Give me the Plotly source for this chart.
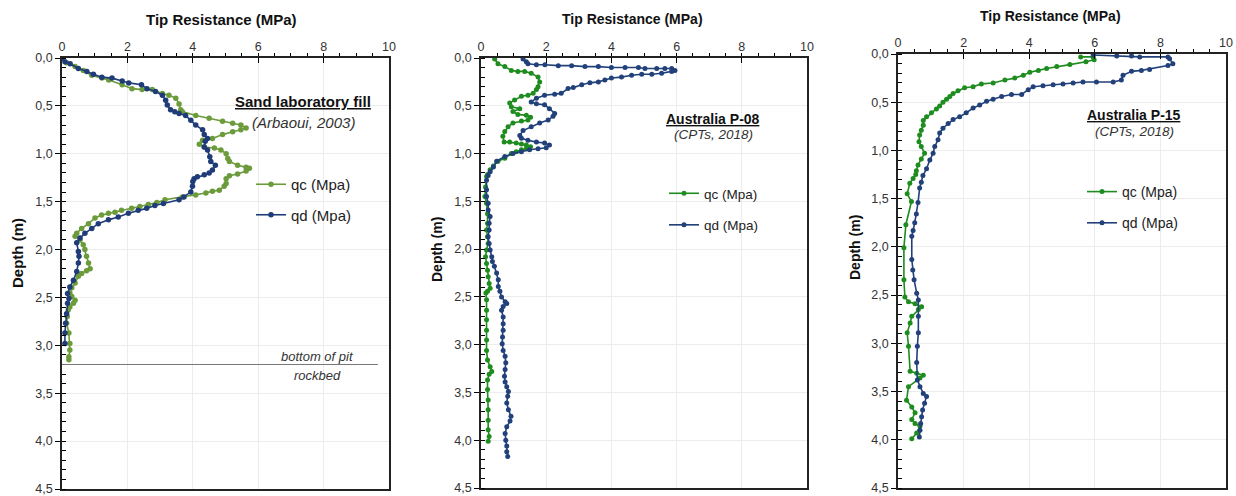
import plotly.graph_objects as go

# ---------------- data ----------------
# Panel 1 : Sand laboratory fill (Arbaoui, 2003)
p1_qd_depth = [0.00,0.04,0.06,0.11,0.14,0.17,0.20,0.21,0.24,0.26,0.28,0.32,0.35,0.39,0.44,0.49,0.54,0.56,0.58,0.60,
               0.65,0.70,0.75,0.80,0.84,0.87,0.93,0.96,1.03,1.08,1.12,1.17,1.20,1.22,1.24,1.26,1.29,1.34,1.40,1.45,
               1.48,1.52,1.54,1.57,1.59,1.62,1.66,1.69,1.73,1.78,1.83,1.88,1.93,2.02,2.07,2.14,2.23,2.32,2.39,2.46,
               2.51,2.56,2.67,2.77,2.87,2.98]
p1_qd_value = [0.00,0.09,0.25,0.50,0.76,0.96,1.22,1.53,1.84,2.04,2.43,2.60,2.86,3.07,3.17,3.22,3.32,3.45,3.58,3.78,
               3.94,4.09,4.30,4.35,4.45,4.38,4.35,4.45,4.52,4.55,4.69,4.60,4.50,4.35,4.14,4.04,4.00,3.99,3.94,3.73,
               3.58,3.10,2.84,2.59,2.33,2.03,1.72,1.42,1.11,0.91,0.70,0.55,0.45,0.50,0.52,0.50,0.45,0.35,0.24,0.17,
               0.21,0.17,0.14,0.11,0.09,0.09]
p1_qc_depth = [0.00,0.05,0.09,0.13,0.18,0.21,0.23,0.28,0.32,0.33,0.33,0.37,0.39,0.42,0.48,0.54,0.56,0.60,0.63,0.66,
               0.68,0.70,0.73,0.75,0.77,0.80,0.84,0.86,0.90,0.93,0.94,0.96,1.00,1.05,1.08,1.12,1.14,1.15,1.18,1.21,
               1.23,1.26,1.31,1.34,1.38,1.39,1.41,1.43,1.45,1.48,1.51,1.53,1.55,1.57,1.59,1.61,1.62,1.64,1.67,1.73,
               1.78,1.83,1.86,1.90,1.95,2.00,2.07,2.14,2.20,2.22,2.25,2.28,2.35,2.40,2.45,2.49,2.53,2.56,2.60,2.63,
               2.70,2.77,2.87,2.98,3.05,3.12,3.15]
p1_qc_value = [0.00,0.14,0.40,0.65,0.91,1.22,1.43,1.84,2.14,2.45,2.76,3.07,3.27,3.48,3.58,3.63,3.68,4.09,4.50,4.91,
               5.22,5.47,5.63,5.47,5.22,4.91,4.60,4.30,4.20,4.35,4.66,4.86,5.02,5.07,5.12,5.37,5.63,5.73,5.63,5.37,
               5.12,5.02,5.02,4.96,4.81,4.60,4.40,4.09,3.68,3.15,2.90,2.64,2.38,2.13,1.82,1.62,1.42,1.21,1.01,0.81,
               0.60,0.45,0.40,0.55,0.65,0.70,0.75,0.81,0.86,0.75,0.60,0.50,0.40,0.30,0.24,0.30,0.40,0.35,0.24,0.19,
               0.16,0.14,0.21,0.24,0.24,0.21,0.21]

# Panel 2 : Australia P-08 (CPTs, 2018)
p2_qd_depth = [0.01,0.04,0.06,0.07,0.07,0.08,0.08,0.09,0.09,0.10,0.10,0.10,0.11,0.11,0.11,0.11,0.13,0.14,0.16,0.17,
               0.17,0.18,0.20,0.21,0.23,0.25,0.26,0.28,0.31,0.32,0.37,0.38,0.39,0.42,0.46,0.48,0.49,0.53,0.58,0.61,
               0.65,0.68,0.72,0.76,0.81,0.84,0.86,0.88,0.89,0.91,0.94,0.95,0.96,0.98,1.00,1.03,1.08,1.14,1.19,
               1.23,1.28,1.38,1.45,1.52,1.59,1.66,1.73,1.80,1.87,1.94,2.01,2.08,2.13,2.18,2.25,2.32,2.39,2.44,2.50,
               2.55,2.57,2.60,2.64,2.71,2.78,2.85,2.92,2.99,3.06,3.12,3.19,3.26,3.33,3.39,3.44,3.49,3.54,3.61,3.68,
               3.75,3.80,3.86,3.93,4.00,4.06,4.12,4.17]
p2_qd_value = [1.29,1.39,1.44,1.70,1.96,2.37,2.78,3.19,3.60,4.00,4.42,4.83,5.03,5.39,5.64,5.85,5.95,5.85,5.54,5.24,
               4.93,4.62,4.31,4.00,3.80,3.60,3.34,3.09,2.83,2.67,2.46,2.26,1.95,1.70,1.54,1.70,1.95,2.10,2.26,2.21,
               2.06,1.80,1.54,1.29,1.19,1.24,1.44,1.70,1.95,2.10,2.00,1.75,1.49,1.24,0.98,0.73,0.48,0.38,0.28,
               0.22,0.17,0.17,0.17,0.22,0.22,0.28,0.25,0.25,0.22,0.25,0.28,0.33,0.35,0.41,0.48,0.53,0.53,0.58,0.63,
               0.74,0.79,0.68,0.63,0.68,0.68,0.68,0.66,0.65,0.68,0.74,0.76,0.74,0.72,0.74,0.79,0.84,0.82,0.79,0.84,
               0.92,0.89,0.79,0.74,0.76,0.79,0.79,0.82]
p2_qc_depth = [0.01,0.06,0.09,0.13,0.14,0.14,0.16,0.20,0.25,0.30,0.33,0.37,0.39,0.40,0.44,0.47,0.51,0.53,0.56,0.59,
               0.60,0.62,0.65,0.66,0.68,0.72,0.77,0.82,0.88,0.88,0.89,0.90,0.91,0.93,0.95,0.96,0.98,1.00,1.05,1.08,
               1.13,1.17,1.22,1.24,1.35,1.45,1.52,1.63,1.73,1.80,1.87,1.94,2.01,2.08,2.15,2.22,2.29,2.36,2.41,2.44,
               2.46,2.53,2.64,2.74,2.85,2.95,3.06,3.16,3.23,3.28,3.31,3.37,3.47,3.58,3.68,3.79,3.89,3.96,4.01]
p2_qc_value = [0.42,0.52,0.73,0.93,1.13,1.34,1.54,1.75,1.80,1.75,1.70,1.60,1.44,1.24,1.03,0.88,0.93,1.19,0.98,1.13,
               1.39,1.52,1.44,1.24,0.98,0.83,0.73,0.67,0.71,0.88,1.08,1.24,1.39,1.52,1.39,1.24,1.08,0.93,0.73,0.52,
               0.38,0.28,0.20,0.17,0.14,0.12,0.17,0.20,0.20,0.17,0.20,0.22,0.17,0.14,0.17,0.20,0.22,0.25,0.28,0.20,
               0.15,0.17,0.17,0.17,0.17,0.17,0.17,0.20,0.28,0.33,0.25,0.20,0.20,0.22,0.22,0.22,0.22,0.25,0.22]

# Panel 3 : Australia P-15 (CPTs, 2018)
p3_qc_depth = [0.03,0.03,0.06,0.08,0.11,0.13,0.15,0.17,0.19,0.22,0.25,0.27,0.30,0.31,0.34,0.35,0.38,0.41,0.44,0.47,
               0.50,0.54,0.57,0.61,0.65,0.69,0.74,0.79,0.84,0.91,0.96,1.03,1.09,1.15,1.21,1.25,1.29,1.34,1.45,1.53,
               1.77,2.01,2.34,2.52,2.57,2.59,2.62,2.65,2.72,2.79,2.89,3.03,3.29,3.31,3.33,3.36,3.45,3.59,3.66,3.72,
               3.79,3.83,3.86,3.93,3.99]
p3_qc_value = [5.57,5.95,5.98,5.73,5.24,4.84,4.53,4.28,4.02,3.82,3.56,3.26,2.90,2.54,2.29,2.03,1.83,1.68,1.58,1.48,
               1.37,1.27,1.17,1.02,0.87,0.77,0.77,0.71,0.66,0.64,0.71,0.81,0.71,0.61,0.56,0.54,0.46,0.36,0.28,0.41,
               0.24,0.18,0.18,0.21,0.32,0.52,0.72,0.62,0.42,0.37,0.28,0.32,0.37,0.57,0.77,0.67,0.32,0.26,0.42,0.52,
               0.42,0.52,0.67,0.57,0.42]
p3_qd_depth = [0.01,0.02,0.02,0.03,0.03,0.05,0.10,0.12,0.16,0.17,0.18,0.22,0.27,0.29,0.29,0.29,0.30,0.31,0.32,0.33,
               0.34,0.37,0.42,0.42,0.44,0.47,0.49,0.53,0.56,0.61,0.65,0.68,0.72,0.77,0.82,0.89,0.96,1.03,1.10,1.19,
               1.26,1.33,1.39,1.54,1.66,1.75,1.83,1.89,2.13,2.24,2.34,2.48,2.55,2.72,2.89,3.03,3.20,3.38,3.45,3.52,
               3.55,3.62,3.69,3.76,3.83,3.90,3.97]
p3_qd_value = [5.95,6.67,7.12,7.37,8.23,8.28,8.38,8.23,7.67,7.42,7.12,6.86,6.81,6.56,6.05,5.64,5.34,5.03,4.73,4.42,
               4.12,3.97,3.77,3.46,3.16,2.90,2.70,2.49,2.29,2.08,1.88,1.68,1.53,1.37,1.27,1.22,1.12,1.07,0.97,0.87,
               0.76,0.71,0.66,0.61,0.56,0.51,0.46,0.42,0.42,0.45,0.49,0.57,0.62,0.62,0.62,0.59,0.57,0.59,0.67,0.77,
               0.87,0.81,0.75,0.72,0.69,0.67,0.65]

x_ticks = [0, 2, 4, 6, 8, 10]
y_ticks = [0.0, 0.5, 1.0, 1.5, 2.0, 2.5, 3.0, 3.5, 4.0, 4.5]

# ---------------- figure ----------------
W, H = 1236, 496
FONT = "Liberation Sans, Arial, sans-serif"


def px_x(p):
    return min(1.0, max(0.0, p / W))


def px_y(p):
    return min(1.0, max(0.0, 1 - p / H))


fig = go.Figure()

panels = [
    dict(qc=(p1_qc_depth, p1_qc_value), qd=(p1_qd_depth, p1_qd_value),
         cqc="#6B9B3A", cqd="#1F3C78", ms=5.5, box=(62, 389, 58, 489),
         leg=(251, 168), legfs=15, leggap=8,
         title=("Sand laboratory fill", "(Arbaoui, 2003)"), tfs=(15, 15), tpos=(7.37, 0.45, 0.67),
         xt=(221, 20), xtfs=15, yt=(17, 253), tickfs=12.5),
    dict(qc=(p2_qc_depth, p2_qc_value), qd=(p2_qd_depth, p2_qd_value),
         cqc="#1E8C1E", cqd="#22407A", ms=5, box=(481, 807, 58, 488),
         leg=(664, 178), legfs=13.5, leggap=11,
         title=("Australia P-08", "(CPTs, 2018)"), tfs=(14, 13.5), tpos=(7.12, 0.64, 0.80),
         xt=(632, 19), xtfs=14, yt=(437, 250), tickfs=12.5),
    dict(qc=(p3_qc_depth, p3_qc_value), qd=(p3_qd_depth, p3_qd_value),
         cqc="#1E8C1E", cqd="#22407A", ms=5, box=(898, 1226, 54, 488),
         leg=(1082, 176), legfs=14, leggap=10,
         title=("Australia P-15", "(CPTs, 2018)"), tfs=(14, 13.5), tpos=(7.2, 0.63, 0.80),
         xt=(1050, 16), xtfs=14, yt=(855, 248), tickfs=12.5),
]

annotations = []
for i, p in enumerate(panels, start=1):
    sfx = "" if i == 1 else str(i)
    xa, ya = "x" + sfx, "y" + sfx
    legname = "legend" if i == 1 else "legend" + str(i)
    fig.add_trace(go.Scatter(x=p["qc"][1], y=p["qc"][0], mode="lines+markers", name="qc (Mpa)",
                             line=dict(color=p["cqc"], width=1.6), marker=dict(size=p["ms"], color=p["cqc"]),
                             xaxis=xa, yaxis=ya, legend=legname, legendgroup="qc" + str(i)))
    fig.add_trace(go.Scatter(x=p["qd"][1], y=p["qd"][0], mode="lines+markers", name="qd (Mpa)",
                             line=dict(color=p["cqd"], width=1.6), marker=dict(size=p["ms"], color=p["cqd"]),
                             xaxis=xa, yaxis=ya, legend=legname, legendgroup="qd" + str(i)))
    x0, x1, y0, y1 = p["box"]
    fig.layout["xaxis" + sfx] = dict(
        domain=[px_x(x0), px_x(x1)], anchor=ya, side="top", range=[0, 10], automargin=False,
        ticklabeloverflow="allow",
        tickvals=x_ticks, ticks="inside", ticklen=5, tickcolor="#000",
        minor=dict(dtick=0.5, ticks="outside", ticklen=3, tickcolor="#000", showgrid=False),
        showgrid=True, gridcolor="#ececec", gridwidth=1,
        showline=True, linecolor="#222", linewidth=1.5, mirror=True,
        tickfont=dict(family=FONT, size=p["tickfs"], color="#333"), zeroline=False, fixedrange=True)
    fig.layout["yaxis" + sfx] = dict(
        domain=[px_y(y1), px_y(y0)], anchor=xa, range=[4.5, 0], automargin=False,
        ticklabeloverflow="allow",
        tickvals=y_ticks, tickformat=".1f", ticks="outside", ticklen=5, tickcolor="#000",
        minor=dict(dtick=0.1, ticks="inside", ticklen=4, tickcolor="#000", showgrid=False),
        showgrid=True, gridcolor="#ececec", gridwidth=1,
        showline=True, linecolor="#222", linewidth=1.5, mirror=True,
        tickfont=dict(family=FONT, size=p["tickfs"], color="#333"), zeroline=False, fixedrange=True)
    lx, ly = p["leg"]
    fig.layout[legname] = dict(x=px_x(lx), y=px_y(ly), xanchor="left", yanchor="top",
                               bgcolor="rgba(0,0,0,0)", font=dict(family=FONT, size=p["legfs"], color="#222"),
                               itemwidth=30, tracegroupgap=p["leggap"])
    tx, ty1, ty2 = p["tpos"]
    annotations.append(dict(x=tx, y=ty1, xref=xa, yref=ya, text="<b><u>" + p["title"][0] + "</u></b>",
                            showarrow=False, xanchor="center", yanchor="middle",
                            font=dict(family=FONT, size=p["tfs"][0], color="#111")))
    annotations.append(dict(x=tx, y=ty2, xref=xa, yref=ya, text="<i>" + p["title"][1] + "</i>",
                            showarrow=False, xanchor="center", yanchor="middle",
                            font=dict(family=FONT, size=p["tfs"][1], color="#333")))
    annotations.append(dict(x=px_x(p["xt"][0]), y=px_y(p["xt"][1]), xref="paper", yref="paper",
                            text="<b>Tip Resistance (MPa)</b>", showarrow=False,
                            xanchor="center", yanchor="middle",
                            font=dict(family=FONT, size=p["xtfs"], color="#111")))
    annotations.append(dict(x=px_x(p["yt"][0]), y=px_y(p["yt"][1]), xref="paper", yref="paper",
                            text="<b>Depth (m)</b>", textangle=-90, showarrow=False,
                            xanchor="center", yanchor="middle",
                            font=dict(family=FONT, size=p["xtfs"], color="#111")))

# pit bottom line in panel 1
fig.add_shape(type="line", x0=0.0, x1=9.66, y0=3.2, y1=3.2, xref="x", yref="y",
              line=dict(color="#777", width=1))
annotations.append(dict(x=7.8, y=3.12, xref="x", yref="y", text="<i>bottom of pit</i>", showarrow=False,
                        xanchor="center", yanchor="middle", font=dict(family=FONT, size=13, color="#333")))
annotations.append(dict(x=7.8, y=3.31, xref="x", yref="y", text="<i>rockbed</i>", showarrow=False,
                        xanchor="center", yanchor="middle", font=dict(family=FONT, size=13, color="#333")))

fig.update_layout(
    width=W, height=H, margin=dict(l=0, r=0, t=0, b=0, autoexpand=False),
    paper_bgcolor="white", plot_bgcolor="white",
    separators=",.", annotations=annotations, showlegend=True,
    font=dict(family=FONT),
)

fig.write_html("out.html")
